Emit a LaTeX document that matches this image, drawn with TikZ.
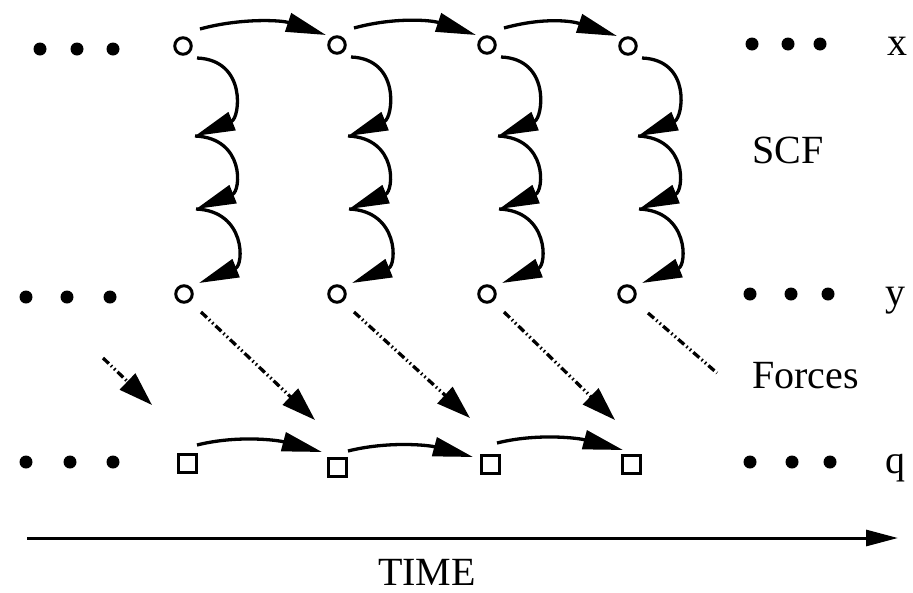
\documentclass[tikz,border=0pt]{standalone}
\usepackage{fontspec}
\setmainfont{Liberation Serif}
\usetikzlibrary{arrows.meta}
\begin{document}
\begin{tikzpicture}[x=1pt,y=-1pt,
  circ/.style={circle,draw,line width=3pt,inner sep=0pt,minimum size=16.5pt},
  sq/.style={rectangle,draw,line width=3pt,inner sep=0pt,minimum size=18pt},
  dot/.style={circle,fill,inner sep=0pt,minimum size=13pt},
  lbl/.style={font=\fontsize{40}{48}\selectfont,inner sep=0pt,anchor=base west},
  curv/.style={line width=3.3pt,-{Triangle[length=40pt,width=19pt]}},
  dd/.style={line width=3.3pt,dash pattern=on 8pt off 3pt on 1.5pt off 3pt on 1.5pt off 3pt},
  ddarr/.style={dd,-{Triangle[length=34pt,width=22pt]}}
]
\useasboundingbox (0,0) rectangle (913,592);

% top row (x)
\node[dot] (xl1) at (40,49) {};
\node[dot] (xl2) at (77,49) {};
\node[dot] (xl3) at (113,49) {};
\node[circ] (t1) at (183,46) {};
\node[circ] (t2) at (337,45) {};
\node[circ] (t3) at (487,45) {};
\node[circ] (t4) at (628,46) {};
\node[dot] (xr1) at (752,44) {};
\node[dot] (xr2) at (788,44) {};
\node[dot] (xr3) at (820,44) {};
\node[lbl] (lx) at (887,55) {x};

% middle row (y)
\node[dot] (yl1) at (26,297) {};
\node[dot] (yl2) at (67,297) {};
\node[dot] (yl3) at (110,297) {};
\node[circ] (m1) at (184,294) {};
\node[circ] (m2) at (337,294) {};
\node[circ] (m3) at (487,294) {};
\node[circ] (m4) at (627,294) {};
\node[dot] (yr1) at (750,294) {};
\node[dot] (yr2) at (791,294) {};
\node[dot] (yr3) at (828,294) {};
\node[lbl] (ly) at (885,305) {y};

% bottom row (q)
\node[dot] (ql1) at (26,462) {};
\node[dot] (ql2) at (70,462) {};
\node[dot] (ql3) at (113,462) {};
\node[sq] (s1) at (187,463) {};
\node[sq] (s2) at (337,467) {};
\node[sq] (s3) at (490,464) {};
\node[sq] (s4) at (631,464) {};
\node[dot] (qr1) at (750,462) {};
\node[dot] (qr2) at (792,462) {};
\node[dot] (qr3) at (830,462) {};
\node[lbl] (lq) at (885,473) {q};

% labels
\node[lbl] (scf) at (752,163) {SCF};
\node[lbl] (forces) at (752,388) {Forces};
\node[lbl] (time) at (378,585) {TIME};

% top arrows
\foreach \i/\j in {1/2,2/3,3/4}{
  \draw[curv] ([shift={(17,-17)}]t\i.center) .. controls +(40,-11) and +(-45,-15) .. ([shift={(-11,-10)}]t\j.center);
}

% SCF arcs
\foreach \i in {1,2,3,4}{
  \coordinate (a\i) at ([shift={(14,12)}]t\i.center);
  \coordinate (b\i) at ([shift={(11,-158)}]m\i.center);
  \coordinate (c\i) at ([shift={(12,-85)}]m\i.center);
  \coordinate (e\i) at ([shift={(15,-11)}]m\i.center);
  \draw[curv] (a\i) .. controls +(50,2) and +(45,-18) .. (b\i);
  \draw[curv] (b\i) .. controls +(50,2) and +(45,-18) .. (c\i);
  \draw[curv] (c\i) .. controls +(50,2) and +(45,-18) .. (e\i);
}

% force arrows
\draw[ddarr] ([shift={(17,18)}]m1.center) -- ([shift={(-22,-47)}]s2.center);
\draw[ddarr] ([shift={(17,18)}]m2.center) -- ([shift={(-20,-46)}]s3.center);
\draw[ddarr] ([shift={(17,18)}]m3.center) -- ([shift={(-16,-44)}]s4.center);
\coordinate (fend) at (717,373);
\draw[dd] ([shift={(21,19)}]m4.center) -- (fend);
\coordinate (lstart) at (103,358);
\coordinate (lend) at (152,405);
\draw[ddarr] (lstart) -- (lend);

% bottom arrows
\draw[curv] ([shift={(10,-18)}]s1.center) .. controls +(40,-10) and +(-45,-12) .. ([shift={(-15,-15)}]s2.center);
\draw[curv] ([shift={(11,-16)}]s2.center) .. controls +(40,-10) and +(-45,-12) .. ([shift={(-17,-7)}]s3.center);
\draw[curv] ([shift={(7,-21)}]s3.center) .. controls +(40,-10) and +(-45,-12) .. ([shift={(-8,-14)}]s4.center);

% time axis
\coordinate (ts) at (27,538);
\coordinate (te) at (898,538);
\draw[line width=3pt,-{Triangle[length=32pt,width=16pt]}] (ts) -- (te);
\end{tikzpicture}
\end{document}
